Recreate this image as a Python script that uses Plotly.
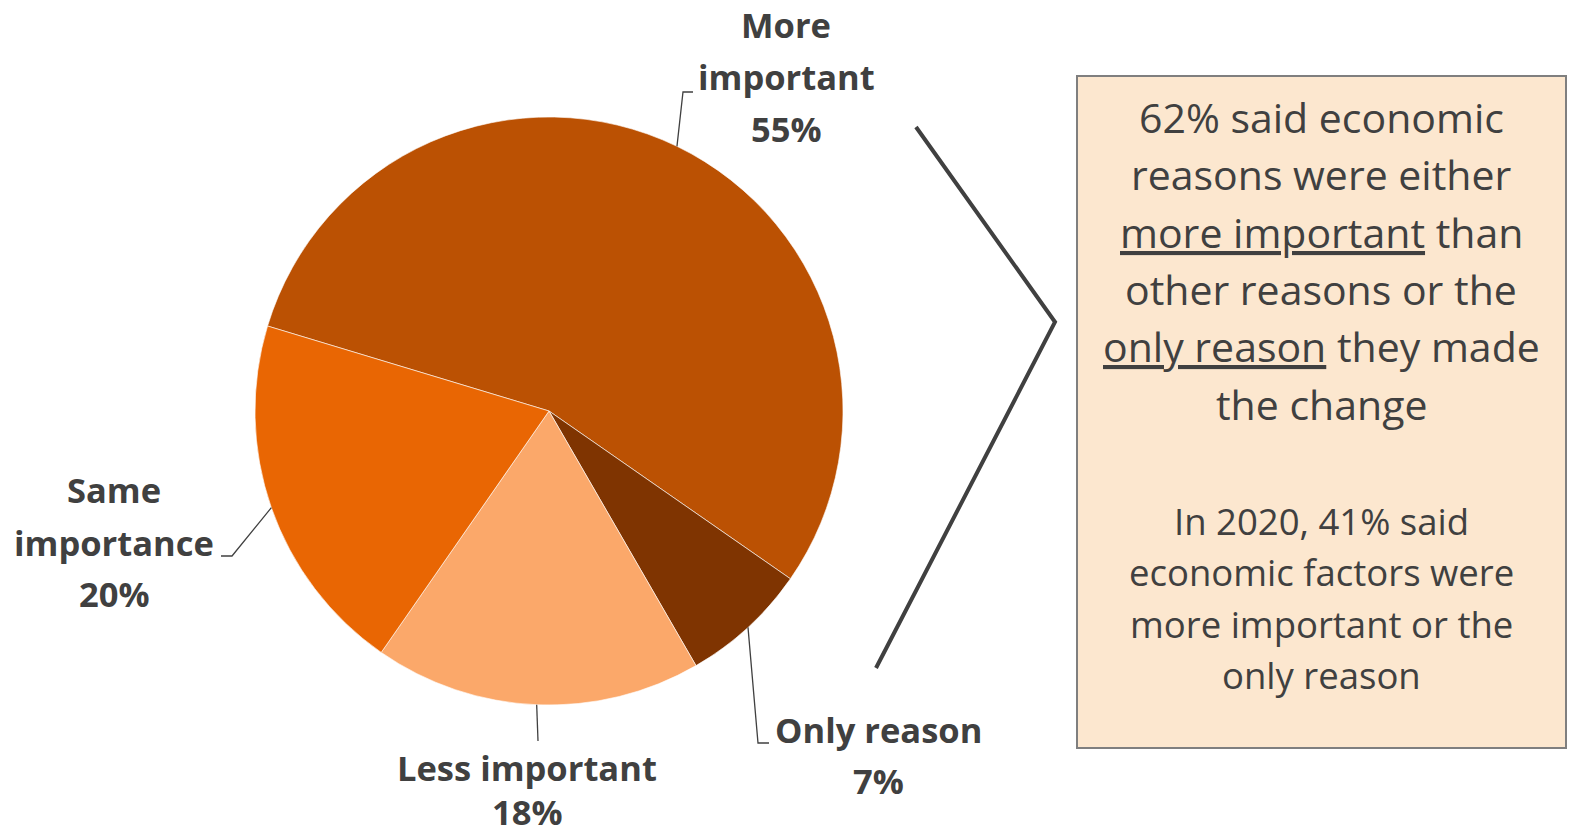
import math
import plotly.graph_objects as go

W, H = 1571, 836

# ---- data ----
categories = ["More important", "Only reason", "Less important", "Same importance"]
values = [55, 7, 18, 20]
colors = ["#BB5103", "#7F3401", "#FBA86A", "#E96603"]
label_lines = [["More", "important"], ["Only reason"], ["Less important"], ["Same", "importance"]]

box_para1 = ["62% said economic", "reasons were either", "<u>more important</u> than",
             "other reasons or the", "<u>only reason</u> they made", "the change"]
box_para2 = ["In 2020, 41% said", "economic factors were", "more important or the", "only reason"]

# ---- layout constants ----
CX, CY, R = 549, 411, 294
ROTATION = 286.8
TXT = "#404040"
FONT = "Open Sans"


def px(x):
    return x / W


def py(y):
    return 1 - y / H


fig = go.Figure()
fig.add_trace(go.Pie(
    labels=categories, values=values, sort=False, direction="clockwise",
    rotation=ROTATION, textinfo="none", hoverinfo="label+percent",
    marker=dict(colors=colors, line=dict(color="rgba(255,255,255,0.6)", width=1)),
    domain=dict(x=[px(CX - R), px(CX + R)], y=[py(CY + R), py(CY - R)]),
    showlegend=False,
))

# label placement (layout): center x, y of each line, leader elbow/end
label_pos = [
    dict(cx=786, ys=[25, 76, 128], leader=[(683, 92), (693, 92)]),
    dict(cx=878, ys=[729, 780], leader=[(758, 743), (769, 743)]),
    dict(cx=527, ys=[767, 811], leader=[(538, 741)]),
    dict(cx=114, ys=[489, 542, 593], leader=[(232, 556), (221, 556)]),
]

annotations = []
shapes = []
total = sum(values)
cum = 0
for cat, v, lines, pos in zip(categories, values, label_lines, label_pos):
    mid = math.radians(ROTATION + 360 * (cum + v / 2) / total)
    cum += v
    sx = CX + R * math.sin(mid)
    sy = CY - R * math.cos(mid)
    pts = [(sx, sy)] + pos["leader"]
    path = "M " + " L ".join(f"{px(a):.5f},{py(b):.5f}" for a, b in pts)
    shapes.append(dict(type="path", path=path, xref="paper", yref="paper",
                       line=dict(color=TXT, width=1.3)))
    texts = lines + [f"{v}%"]
    for t, y in zip(texts, pos["ys"]):
        annotations.append(dict(text=f"<b>{t}</b>", x=px(pos["cx"]), y=py(y),
                                xref="paper", yref="paper", showarrow=False,
                                xanchor="center", yanchor="middle", borderpad=0,
                                font=dict(family=FONT, size=34.5, color=TXT)))

# text box
shapes.append(dict(type="rect", xref="paper", yref="paper",
                   x0=px(1077), x1=px(1566), y0=py(748), y1=py(76),
                   fillcolor="#FCE7CF", line=dict(color="#7F7F7F", width=2), layer="below"))
# bracket
br = [(916, 127), (1055, 322), (876, 668)]
shapes.append(dict(type="path", xref="paper", yref="paper",
                   path="M " + " L ".join(f"{px(a):.5f},{py(b):.5f}" for a, b in br),
                   line=dict(color=TXT, width=4)))

for t, y in zip(box_para1, [117, 174, 232, 289, 346, 404]):
    annotations.append(dict(text=t, x=px(1321), y=py(y), xref="paper", yref="paper",
                            showarrow=False, xanchor="center", yanchor="middle",
                            font=dict(family=FONT, size=41, color=TXT)))
for t, y in zip(box_para2, [521, 572, 624, 675]):
    annotations.append(dict(text=t, x=px(1321), y=py(y), xref="paper", yref="paper",
                            showarrow=False, xanchor="center", yanchor="middle",
                            font=dict(family=FONT, size=36.5, color=TXT)))

fig.update_layout(width=W, height=H, margin=dict(l=0, r=0, t=0, b=0),
                  paper_bgcolor="white", plot_bgcolor="white",
                  annotations=annotations, shapes=shapes)

fig.write_html("out.html")
